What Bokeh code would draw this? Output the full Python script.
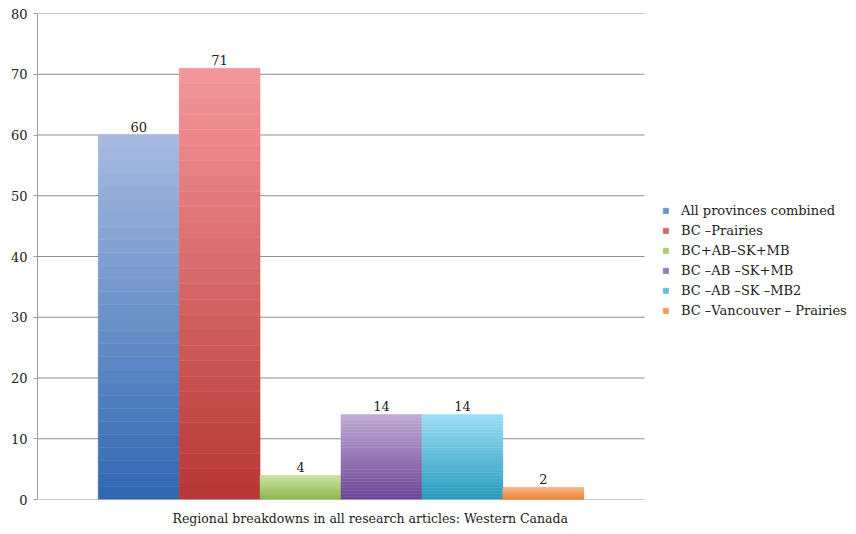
from bokeh.plotting import figure
from bokeh.models import (Range1d, FixedTicker, Legend, LegendItem,
                          ColumnDataSource, Title)
from bokeh.core.properties import value
from bokeh.embed import file_html
from bokeh.resources import INLINE

# ---- data -------------------------------------------------------------
series = ["All provinces combined", "BC –Prairies", "BC+AB–SK+MB",
          "BC –AB –SK+MB", "BC –AB –SK –MB2", "BC –Vancouver – Prairies"]
counts = [60, 71, 4, 14, 14, 2]
y_ticks = [0, 10, 20, 30, 40, 50, 60, 70, 80]
x_title = "Regional breakdowns in all research articles: Western Canada"

# ---- styling ----------------------------------------------------------
top_colors = ["#A8BBE0", "#F4989C", "#CBE2A3", "#C0ABD4", "#9CDEF7", "#F9B786"]
bottom_colors = ["#2F67B3", "#B63634", "#89B445", "#6B4496", "#2899BC", "#EE7F2E"]
FONT = "DejaVu Serif"
N_STRIPS = 28

# plotting area spans 7.5 bar widths (bars + side gaps); the frame is
# widened to the right edge so the legend can sit inside it
X0, X1 = -1.25, 6.25
PLOT_PX, FRAME_PX = 607, 856 - 37
x_end = X0 + (X1 - X0) * FRAME_PX / PLOT_PX


def mix(c1, c2, t):
    a = [int(c1[i:i + 2], 16) for i in (1, 3, 5)]
    b = [int(c2[i:i + 2], 16) for i in (1, 3, 5)]
    return "#%02x%02x%02x" % tuple(round(a[k] + (b[k] - a[k]) * t) for k in range(3))


p = figure(width=856, height=534, output_backend="svg", toolbar_location=None,
           x_range=Range1d(X0, x_end), y_range=Range1d(0, 80),
           min_border_left=37, min_border_right=0, min_border_top=13,
           min_border_bottom=35)
p.outline_line_color = None
p.background_fill_color = "white"
p.border_fill_color = "white"

# y axis
p.yaxis.ticker = FixedTicker(ticks=y_ticks)
p.yaxis.axis_line_color = "#A0A0A0"
p.yaxis.major_tick_line_color = "#A0A0A0"
p.yaxis.major_tick_out = 4
p.yaxis.major_tick_in = 0
p.yaxis.minor_tick_line_color = None
p.yaxis.major_label_text_font = FONT
p.yaxis.major_label_text_font_size = "13px"
p.yaxis.major_label_text_color = "#222222"
p.yaxis.major_label_standoff = 6

p.xaxis.visible = False
p.xgrid.grid_line_color = None
p.ygrid.grid_line_color = None

# horizontal gridlines (the one at 0 doubles as the category axis line)
p.segment(x0=X0, x1=X1, y0=y_ticks, y1=y_ticks,
          line_color=["#A0A0A0"] + ["#8E8E8E"] * (len(y_ticks) - 1), line_width=1)

# bars, each shaded with a vertical gradient built from thin slices
items = []
for i, (name, v) in enumerate(zip(series, counts)):
    bottoms, tops, colors = [], [], []
    for k in range(N_STRIPS):
        bottoms.append(v * k / N_STRIPS)
        tops.append(v * (k + 1) / N_STRIPS)
        colors.append(mix(bottom_colors[i], top_colors[i], (k + 0.5) / N_STRIPS))
    src = ColumnDataSource(dict(x=[i] * N_STRIPS, bottom=bottoms, top=tops, color=colors))
    r = p.vbar(x="x", bottom="bottom", top="top", width=1.0, source=src,
               fill_color="color", line_color="color", line_width=0.5)
    items.append(LegendItem(label=name, renderers=[r], index=N_STRIPS // 2))

# value labels above the bars
p.text(x=list(range(len(counts))), y=counts, text=[str(c) for c in counts],
       text_align="center", text_baseline="alphabetic", y_offset=-8,
       text_font=value(FONT), text_font_size="13px", text_color="#222222")

legend = Legend(items=items, location=(625, 179), orientation="vertical",
                glyph_width=7, glyph_height=7, label_standoff=12,
                label_height=20, spacing=0, padding=0, margin=0,
                label_text_font=FONT, label_text_font_size="13px",
                label_text_color="#222222",
                background_fill_alpha=0, border_line_color=None)
p.add_layout(legend)

p.add_layout(Title(text=x_title, align="left", offset=135, standoff=18,
                   text_font=FONT, text_font_size="12.5px",
                   text_font_style="normal", text_color="#222222"), "below")

open("out.html", "w").write(file_html(p, INLINE))
